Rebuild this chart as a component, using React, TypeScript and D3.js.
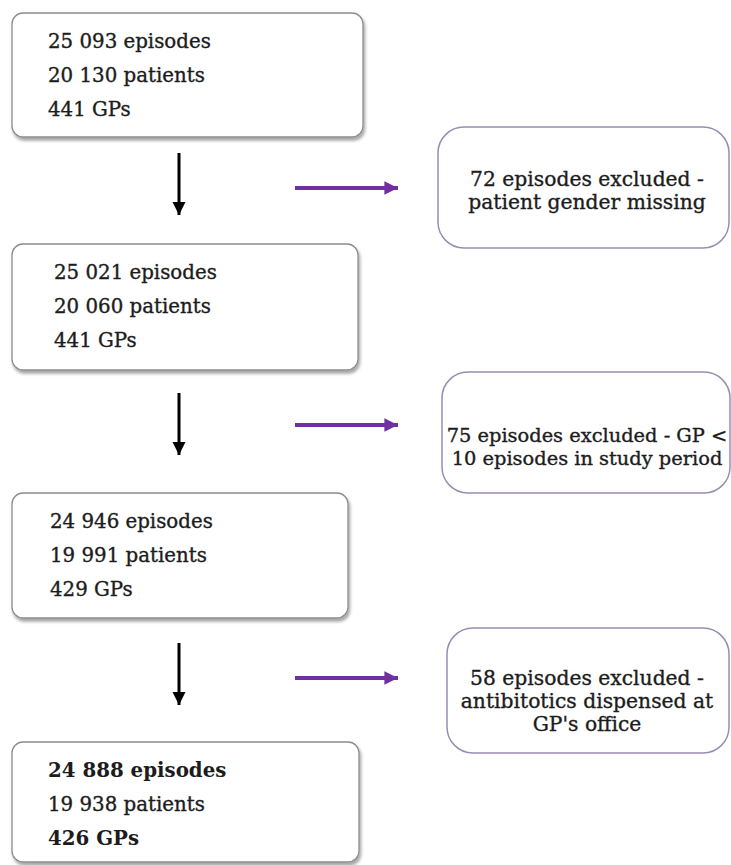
import React from "react";
import * as d3 from "d3";

// flow numbers, one entry per stage
const episodes = ["25 093", "25 021", "24 946", "24 888"];
const patients = ["20 130", "20 060", "19 991", "19 938"];
const gps = ["441", "441", "429", "426"];

// exclusion notes between stages
const exclusionLines = [
  ["72 episodes excluded -", "patient gender missing"],
  ["75 episodes excluded - GP <", "10 episodes in study period"],
  ["58 episodes excluded -", "antibitotics dispensed at", "GP's office"],
];

// layout (pixels)
const W = 731;
const H = 865;
const stageBoxes = [
  { x: 12, y: 13, w: 351, h: 124, tx: 48 },
  { x: 12, y: 244, w: 346, h: 126, tx: 54 },
  { x: 12, y: 493, w: 336, h: 125, tx: 50 },
  { x: 12, y: 742, w: 347, h: 120, tx: 48 },
];
const exclBoxes = [
  { x: 438, y: 127, w: 291, h: 121, cx: 587, by: 186, fs: 20.3 },
  { x: 442, y: 372, w: 288, h: 121, cx: 587, by: 442, fs: 19.4 },
  { x: 447, y: 628, w: 282, h: 125, cx: 587, by: 685, fs: 20.3 },
];
const downArrows = [
  { y0: 153, y1: 215 },
  { y0: 393, y1: 455 },
  { y0: 643, y1: 705 },
];
const sideArrowY = [188, 425, 678];

const serif = "'DejaVu Serif', 'Liberation Serif', serif";
const ink = "#1c1c1c";
const purple = "#7030a0";

const arrowLine = (x0: number, y0: number, x1: number, y1: number) => {
  const p = d3.path();
  p.moveTo(x0, y0);
  p.lineTo(x1, y1);
  return p.toString();
};

export default function App() {
  const lineOffsets = d3.scalePoint<number>().domain([0, 1, 2]).range([35, 103]);

  return (
    <svg
      width={W}
      height={H}
      style={{ position: "absolute", left: 0, top: 0, background: "#fff" }}
    >
      <defs>
        <filter id="shadow" x="-5%" y="-5%" width="115%" height="125%">
          <feDropShadow dx="1.5" dy="3" stdDeviation="1.8" floodColor="#000" floodOpacity="0.35" />
        </filter>
        <marker id="headBlack" viewBox="0 0 10 10" refX="10" refY="5" markerWidth="4.4" markerHeight="4.6" orient="auto" markerUnits="strokeWidth">
          <path d="M0,0 L10,5 L0,10 Z" fill="#000" />
        </marker>
        <marker id="headPurple" viewBox="0 0 10 10" refX="10" refY="5" markerWidth="3.4" markerHeight="3.6" orient="auto" markerUnits="strokeWidth">
          <path d="M0,0 L10,5 L0,10 Z" fill={purple} />
        </marker>
      </defs>

      {stageBoxes.map((b, i) => {
        const lines = [`${episodes[i]} episodes`, `${patients[i]} patients`, `${gps[i]} GPs`];
        const last = i === stageBoxes.length - 1;
        return (
          <g key={`s${i}`}>
            <rect
              x={b.x}
              y={b.y}
              width={b.w}
              height={b.h}
              rx={11}
              fill="#fff"
              stroke="#8c8c8c"
              strokeWidth={1.3}
              filter="url(#shadow)"
            />
            {lines.map((t, j) => {
              const bold = last && j !== 1;
              return (
                <text
                  key={j}
                  x={b.tx}
                  y={b.y + (lineOffsets(j) ?? 0)}
                  fontFamily={serif}
                  fontSize={19.8}
                  fontWeight={bold ? "bold" : "normal"}
                  fill={ink}
                  stroke={ink}
                  strokeWidth={bold ? 0 : 0.35}
                >
                  {t}
                </text>
              );
            })}
          </g>
        );
      })}

      {downArrows.map((a, i) => (
        <path
          key={`d${i}`}
          d={arrowLine(179, a.y0, 179, a.y1)}
          stroke="#000"
          strokeWidth={3}
          markerEnd="url(#headBlack)"
        />
      ))}

      {sideArrowY.map((y, i) => (
        <path
          key={`p${i}`}
          d={arrowLine(295, y, 398, y)}
          stroke={purple}
          strokeWidth={4}
          markerEnd="url(#headPurple)"
        />
      ))}

      {exclBoxes.map((b, i) => (
        <g key={`e${i}`}>
          <rect
            x={b.x}
            y={b.y}
            width={b.w}
            height={b.h}
            rx={26}
            fill="#fff"
            stroke="#9a8db5"
            strokeWidth={1.5}
          />
          {exclusionLines[i].map((t, j) => (
            <text
              key={j}
              x={b.cx}
              y={b.by + j * 23}
              textAnchor="middle"
              fontFamily={serif}
              fontSize={b.fs}
              fill={ink}
              stroke={ink}
              strokeWidth={0.35}
            >
              {t}
            </text>
          ))}
        </g>
      ))}
    </svg>
  );
}
